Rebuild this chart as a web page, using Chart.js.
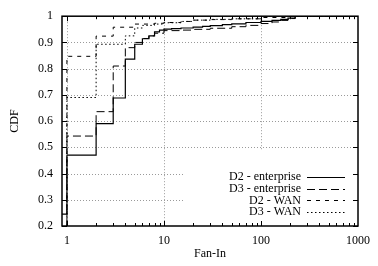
<!DOCTYPE html>
<html>
<head>
<meta charset="utf-8">
<script src="https://cdn.jsdelivr.net/npm/chart.js@4/dist/chart.umd.min.js"></script>
<style>
  html, body { margin: 0; padding: 0; background: #fff; }
</style>
</head>
<body>
<canvas id="cdfChart" width="378" height="266"></canvas>
<script>
// ── data ──
const xTicks = [1, 10, 100, 1000];
const yTicks = [0.2, 0.3, 0.4, 0.5, 0.6, 0.7, 0.8, 0.9, 1];
const seriesLabels = ['D2 - enterprise', 'D3 - enterprise', 'D2 - WAN', 'D3 - WAN'];

const d2EntFanIn = [0.89, 1, 2, 3, 4, 5, 6, 7, 8, 9, 10, 12, 15, 20, 25, 30, 40, 50, 70, 100, 130, 160, 190, 225, 1000];
const d2EntCdf   = [0.245, 0.47, 0.59, 0.688, 0.836, 0.893, 0.914, 0.925, 0.94, 0.947, 0.951, 0.953, 0.955, 0.958, 0.961, 0.964, 0.968, 0.971, 0.976, 0.98, 0.984, 0.988, 0.993, 1, 1];

const d3EntFanIn = [1, 1, 2, 3, 4, 5, 6, 7, 8, 10, 15, 20, 30, 50, 70, 100, 130, 160, 190, 225, 1000];
const d3EntCdf   = [0.2, 0.543, 0.636, 0.81, 0.88, 0.9, 0.915, 0.925, 0.935, 0.945, 0.947, 0.95, 0.954, 0.96, 0.965, 0.972, 0.978, 0.984, 0.991, 1, 1];

const d2WanFanIn = [1, 1, 2, 3, 5, 8, 10, 15, 20, 30, 50, 100, 200, 1000];
const d2WanCdf   = [0.2, 0.847, 0.924, 0.958, 0.97, 0.973, 0.976, 0.98, 0.985, 0.987, 0.99, 0.995, 1, 1];

const d3WanFanIn = [1, 1, 2, 4, 5, 6, 8, 10, 15, 20, 30, 50, 100, 1000];
const d3WanCdf   = [0.2, 0.69, 0.893, 0.925, 0.955, 0.965, 0.97, 0.975, 0.98, 0.985, 0.988, 0.99, 1, 1];

const FONT = "'Liberation Serif', 'DejaVu Serif', serif";
const dashes = [[], [8, 4], [4, 5], [1.5, 2.5]];
const widths = [1.2, 1, 1, 1];

const toPoints = (xs, ys) => xs.map((v, i) => ({ x: v, y: ys[i] }));
const allSeries = [
  toPoints(d2EntFanIn, d2EntCdf),
  toPoints(d3EntFanIn, d3EntCdf),
  toPoints(d2WanFanIn, d2WanCdf),
  toPoints(d3WanFanIn, d3WanCdf)
];

// gnuplot-ish frame: dotted grid, inward ticks, key box, axis titles
const gnuFrame = {
  id: 'gnuFrame',
  beforeDatasetsDraw(chart) {
    const { ctx, chartArea: a, scales: { x, y } } = chart;
    ctx.save();
    ctx.strokeStyle = '#9a9a9a';
    ctx.lineWidth = 1;
    ctx.setLineDash([1, 2]);
    ctx.beginPath();
    [1, 10, 100].forEach(v => {
      const px = Math.round(x.getPixelForValue(v)) + 0.5;
      ctx.moveTo(px, a.top); ctx.lineTo(px, a.bottom);
    });
    yTicks.slice(1, -1).forEach(v => {
      const py = Math.round(y.getPixelForValue(v)) + 0.5;
      ctx.moveTo(a.left, py); ctx.lineTo(a.right, py);
    });
    ctx.stroke();
    ctx.restore();
  },
  afterDatasetsDraw(chart) {
    const { ctx, chartArea: a, scales: { x, y } } = chart;
    ctx.save();

    // key
    ctx.fillStyle = '#fff';
    ctx.fillRect(183, 150, a.right - 5 - 183, a.bottom - 2 - 150);
    ctx.font = '12px ' + FONT;
    ctx.fillStyle = '#000';
    ctx.textAlign = 'right';
    ctx.textBaseline = 'middle';
    seriesLabels.forEach((lbl, i) => {
      const ry = 177 + i * 11.7;
      ctx.fillText(lbl, 301, ry);
      ctx.beginPath();
      ctx.setLineDash(dashes[i]);
      ctx.lineWidth = widths[i];
      ctx.strokeStyle = '#000';
      ctx.moveTo(307, Math.round(ry) + 0.5);
      ctx.lineTo(345, Math.round(ry) + 0.5);
      ctx.stroke();
    });
    ctx.setLineDash([]);

    // ticks
    ctx.strokeStyle = '#000';
    ctx.lineWidth = 1;
    ctx.beginPath();
    yTicks.forEach(v => {
      const py = Math.round(y.getPixelForValue(v)) + 0.5;
      ctx.moveTo(a.left, py); ctx.lineTo(a.left + 5, py);
      ctx.moveTo(a.right, py); ctx.lineTo(a.right - 5, py);
    });
    [1, 10, 100].forEach(dec => {
      for (let m = 1; m <= 9; m++) {
        const px = Math.round(x.getPixelForValue(dec * m)) + 0.5;
        const len = m === 1 ? 5 : 3;
        ctx.moveTo(px, a.bottom); ctx.lineTo(px, a.bottom - len);
        ctx.moveTo(px, a.top); ctx.lineTo(px, a.top + len);
      }
    });
    ctx.stroke();

    // border
    ctx.lineWidth = 1.5;
    ctx.strokeRect(a.left, a.top, a.right - a.left, a.bottom - a.top);

    // axis titles
    ctx.font = '12px ' + FONT;
    ctx.textAlign = 'center';
    ctx.textBaseline = 'middle';
    ctx.fillText('Fan-In', (a.left + a.right) / 2, 254);
    ctx.translate(15, 121);
    ctx.rotate(-Math.PI / 2);
    ctx.fillText('CDF', 0, 0);
    ctx.restore();
  }
};

new Chart(document.getElementById('cdfChart').getContext('2d'), {
  type: 'line',
  data: {
    datasets: allSeries.map((pts, i) => ({
      label: seriesLabels[i],
      data: pts,
      borderColor: '#000',
      borderWidth: widths[i],
      borderDash: dashes[i],
      stepped: 'before',
      fill: false,
      pointRadius: 0
    }))
  },
  options: {
    responsive: false,
    animation: false,
    layout: { padding: { top: 13, right: 16, left: 0, bottom: 0 } },
    plugins: { legend: { display: false }, tooltip: { enabled: false } },
    scales: {
      x: {
        type: 'logarithmic',
        min: 0.89, max: 1000,
        grid: { display: false, drawTicks: false },
        border: { display: false },
        afterBuildTicks: s => { s.ticks = xTicks.map(v => ({ value: v })); },
        afterFit: s => { s.height = 40; },
        ticks: {
          autoSkip: false, maxRotation: 0, padding: 8,
          color: '#000', font: { family: FONT, size: 12 },
          callback: v => String(v)
        }
      },
      y: {
        min: 0.2, max: 1,
        grid: { display: false, drawTicks: false },
        border: { display: false },
        afterBuildTicks: s => { s.ticks = yTicks.map(v => ({ value: v })); },
        afterFit: s => { s.width = 62; },
        ticks: {
          padding: 9,
          color: '#000', font: { family: FONT, size: 12 },
          callback: v => (v === 1 ? '1' : v.toFixed(1))
        }
      }
    }
  },
  plugins: [gnuFrame]
});
</script>
</body>
</html>
